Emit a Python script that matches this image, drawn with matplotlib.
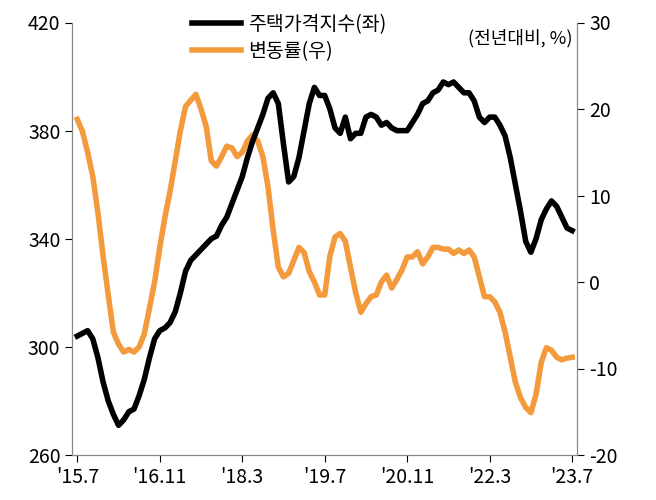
import matplotlib.pyplot as plt
import numpy as np
from matplotlib import font_manager

names = {f.name for f in font_manager.fontManager.ttflist}
cjk = [n for n in ["Noto Sans CJK KR", "Noto Sans CJK JP", "Noto Sans CJK SC", "Noto Sans CJK TC"] if n in names]
plt.rcParams["font.family"] = cjk + ["DejaVu Sans"]
plt.rcParams["axes.unicode_minus"] = False

X_LABELS = ["'15.7", "'16.11", "'18.3", "'19.7", "'20.11", "'22.3", "'23.7"]

PRICE_INDEX = [
    304, 305, 306, 303, 296, 287, 280, 275, 271, 273, 276, 277, 282, 288, 296, 303,
    306, 307, 309, 313, 320, 328, 332, 334, 336, 338, 340, 341, 345, 348, 353, 358,
    363, 370, 376, 381, 386, 392, 394, 390, 375, 361, 363, 370, 380, 390, 396, 393,
    393, 388, 381, 379, 385, 377, 379, 379, 385, 386, 385, 382, 383, 381, 380, 380,
    380, 383, 386, 390, 391, 394, 395, 398, 397, 398, 396, 394, 394, 391, 385, 383,
    385, 385, 382, 378, 370, 360, 350, 339, 335, 340, 347, 351, 354, 352, 348, 344,
    343,
]

YOY_CHANGE = [
    18.8, 17.4, 15, 12.2, 8, 3, -1.5, -5.8, -7.2, -8.1, -7.8, -8.1, -7.5, -6, -3, 0,
    4, 7.5, 10.5, 14, 17.5, 20.3, 21, 21.7, 20, 18, 14, 13.4, 14.5, 15.7, 15.5, 14.5,
    15, 16.3, 17, 16.3, 14.5, 11, 6, 1.7, 0.6, 1, 2.5, 4, 3.4, 1.2, 0, -1.5,
    -1.5, 3, 5.2, 5.6, 4.7, 1.7, -1.2, -3.5, -2.5, -1.7, -1.5, 0, 0.8, -0.7,
    0.3, 1.4, 2.9, 2.9, 3.5, 2.1, 2.9, 4, 4, 3.8, 3.8, 3.3, 3.7, 3.3,
    3.7, 2.9, 0.6, -1.7, -1.7, -2.3, -3.5, -5.8, -8.7, -11.6, -13.4, -14.5, -15.1,
    -13, -9.3, -7.6, -7.9, -8.7, -9.0, -8.8, -8.7,
]

x = np.arange(len(PRICE_INDEX))

fig, ax = plt.subplots(figsize=(6.56, 5.0), dpi=100)
ax2 = ax.twinx()

l1, = ax.plot(x, PRICE_INDEX, color="black", lw=4, label="주택가격지수(좌)", zorder=3)
l2, = ax2.plot(x, YOY_CHANGE, color="#F39A3C", lw=4, label="변동률(우)")
ax.set_zorder(ax2.get_zorder() + 1)
ax.patch.set_visible(False)

ax.set_ylim(260, 420)
ax.set_yticks([260, 300, 340, 380, 420])
ax2.set_ylim(-20, 30)
ax2.set_yticks([-20, -10, 0, 10, 20, 30])
ax.set_xlim(-1, 97)
ax.set_xticks(np.arange(0, 97, 16))
ax.set_xticklabels(X_LABELS)

for a in (ax, ax2):
    a.spines["top"].set_visible(False)
    a.tick_params(labelsize=14, direction="out", length=5)
    for s in a.spines.values():
        s.set_color("#888888")

ax.legend(handles=[l1, l2], loc="upper center", bbox_to_anchor=(0.43, 1.06),
          frameon=False, fontsize=14, handlelength=2.5, handletextpad=0.4,
          labelspacing=0.3)
ax.text(0.99, 0.985, "(전년대비, %)", transform=ax.transAxes, ha="right", va="top", fontsize=13)

fig.subplots_adjust(left=0.11, right=0.88, top=0.955, bottom=0.09)
fig.savefig("out.png", dpi=100)
